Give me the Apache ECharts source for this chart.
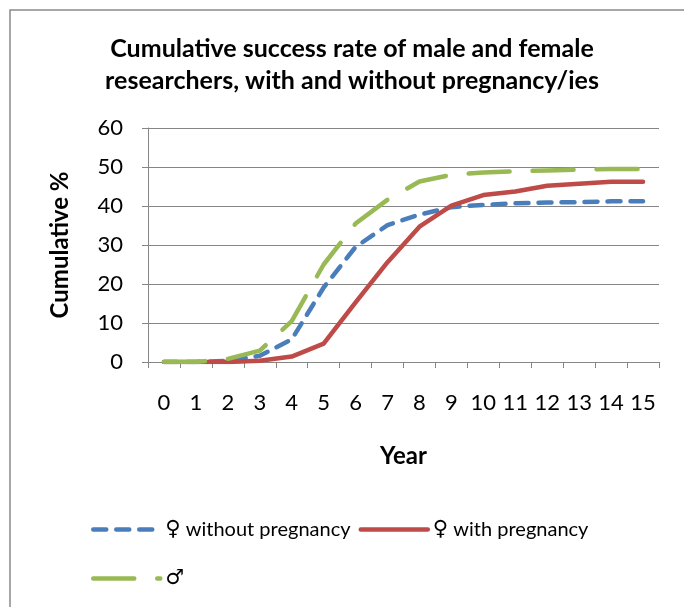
<!DOCTYPE html>
<html>
<head>
<meta charset="utf-8">
<title>Cumulative success rate</title>
<script src="https://cdn.jsdelivr.net/npm/echarts@6/dist/echarts.min.js"></script>
<style>
  html, body { margin: 0; padding: 0; background: #fff; }
  #myChart { width: 684px; height: 607px; }
</style>
</head>
<body>
<div id="myChart"></div>
<script>
// x轴 年份
var years = ['0', '1', '2', '3', '4', '5', '6', '7', '8', '9', '10', '11', '12', '13', '14', '15']
// 数据
var withoutPregnancy = [0, 0, 0.3, 1.6, 5.8, 19.1, 29.5, 35.1, 37.8, 39.7, 40.3, 40.7, 40.9, 41.0, 41.2, 41.2]
var withPregnancy = [0, 0, 0, 0.3, 1.4, 4.7, 15.3, 25.6, 34.7, 40.1, 42.8, 43.7, 45.2, 45.7, 46.2, 46.2]
var male = [0, 0, 0.8, 2.9, 10.5, 25.0, 35.5, 41.6, 46.3, 48.0, 48.6, 48.9, 49.1, 49.3, 49.5, 49.5]
var seriesNames = ['\u2640 without pregnancy', '\u2640 with pregnancy', '\u2642']
var yTicks = { min: 0, max: 60, interval: 10 }

var font = 'Lato, "Open Sans", sans-serif'
var gridColor = '#868686'

// 图例文字: 性别符号放大
var legendText = {
  fontFamily: font,
  fontSize: 20,
  color: '#000',
  rich: {
    sym: { fontFamily: '"DejaVu Sans"', fontSize: 21, color: '#000' },
    txt: { fontFamily: font, fontSize: 20, color: '#000' }
  }
}
function legendFormatter (name) {
  var sym = name.charAt(0)
  var rest = name.slice(1)
  return '{sym|' + sym + '}' + (rest ? '{txt|' + rest + '}' : '')
}

var chart = echarts.init(document.getElementById('myChart'))
var option = {
  backgroundColor: '#fff',
  animation: false,
  textStyle: { fontFamily: font, color: '#000' },
  // 外框
  graphic: [{
    type: 'rect',
    shape: { x: 10, y: 10, width: 900, height: 900 },
    style: { fill: 'none', stroke: '#8a8a8a', lineWidth: 1.5 },
    silent: true
  }],
  title: {
    text: 'Cumulative success rate of male and female\nresearchers, with and without pregnancy/ies',
    left: 347,
    textAlign: 'center',
    top: 28,
    textStyle: {
      fontFamily: font,
      fontSize: 25,
      fontWeight: 'bold',
      color: '#000',
      lineHeight: 32
    }
  },
  // 图例 两行
  legend: [{
    left: 86,
    top: 514,
    itemWidth: 67,
    itemHeight: 1,
    itemGap: 8,
    itemStyle: { opacity: 0 },
    lineStyle: { width: 4.5, cap: 'round' },
    textStyle: legendText,
    formatter: legendFormatter,
    data: [seriesNames[0], seriesNames[1]]
  }, {
    left: 86,
    top: 563,
    itemWidth: 67,
    itemHeight: 1,
    itemStyle: { opacity: 0 },
    lineStyle: { width: 4.5, cap: 'round' },
    textStyle: legendText,
    formatter: legendFormatter,
    data: [{
      name: seriesNames[2],
      lineStyle: { type: [41, 23, 4, 100], width: 4.5, cap: 'round' }
    }]
  }],
  grid: {
    left: 148,
    right: 25,
    top: 128,
    bottom: 245,
    containLabel: false
  },
  xAxis: {
    type: 'category',
    data: years,
    boundaryGap: true,
    name: 'Year',
    nameLocation: 'middle',
    nameGap: 82,
    nameTextStyle: { fontFamily: font, fontSize: 24, fontWeight: 'bold', color: '#000' },
    axisLine: { lineStyle: { color: gridColor, width: 1 } },
    axisTick: { show: true, length: 6, interval: 0, lineStyle: { color: gridColor } },
    axisLabel: { interval: 0, margin: 30, fontSize: 22, color: '#000', fontFamily: font },
    splitLine: { show: false }
  },
  yAxis: {
    type: 'value',
    min: yTicks.min,
    max: yTicks.max,
    interval: yTicks.interval,
    name: 'Cumulative %',
    nameLocation: 'middle',
    nameGap: 76,
    nameTextStyle: { fontFamily: font, fontSize: 24, fontWeight: 'bold', color: '#000' },
    axisLine: { show: true, lineStyle: { color: gridColor, width: 1 } },
    axisTick: { show: true, length: 6, lineStyle: { color: gridColor } },
    axisLabel: { margin: 25, fontSize: 22, color: '#000', fontFamily: font },
    splitLine: { lineStyle: { color: gridColor, width: 1 } }
  },
  series: [{
    name: seriesNames[0],
    type: 'line',
    data: withoutPregnancy,
    symbol: 'none',
    color: '#4A7EBB',
    lineStyle: { width: 4.5, type: [13, 10], cap: 'round', join: 'round' }
  }, {
    name: seriesNames[1],
    type: 'line',
    data: withPregnancy,
    symbol: 'none',
    color: '#BE4B48',
    lineStyle: { width: 4.5, type: 'solid', cap: 'round', join: 'round' }
  }, {
    name: seriesNames[2],
    type: 'line',
    data: male,
    symbol: 'none',
    color: '#98B954',
    lineStyle: { width: 4.5, type: [41, 23], cap: 'round', join: 'round' }
  }]
}
chart.setOption(option)
</script>
</body>
</html>
